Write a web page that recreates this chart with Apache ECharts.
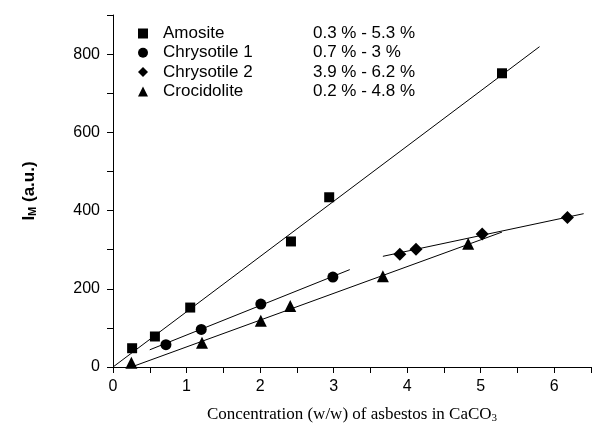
<!DOCTYPE html>
<html>
<head>
<meta charset="utf-8">
<script src="https://cdn.jsdelivr.net/npm/echarts@6/dist/echarts.min.js"></script>
<style>
html, body { margin: 0; padding: 0; background: #fff; }
#chart { width: 594px; height: 435px; }
</style>
</head>
<body>
<div id="chart"></div>
<script type="text/javascript">
// measured points (x = % w/w, y = I_M)
var amosite = [[0.26, 48], [0.57, 78], [1.05, 152], [2.42, 321], [2.94, 434], [5.29, 751]];
var chrysotile1 = [[0.72, 57], [1.2, 96], [2.01, 161], [2.99, 230]];
var chrysotile2 = [[3.9, 288], [4.12, 301], [5.02, 340], [6.18, 382]];
var crocidolite = [[0.25, 11], [1.21, 62], [2.01, 118], [2.41, 156], [3.67, 232], [4.83, 315]];

// fitted lines (end points)
var fitAmosite = [[0, 0], [5.8, 819]];
var fitChrys1 = [[0.5, 44], [3.22, 249]];
var fitChrys2 = [[3.67, 283], [6.4, 392]];
var fitCroc = [[0.25, 0], [5.29, 345]];

var names = ['Amosite', 'Chrysotile 1', 'Chrysotile 2', 'Crocidolite'];
var ranges = ['0.3 % - 5.3 %', '0.7 % - 3 %', '3.9 % - 6.2 %', '0.2 % - 4.8 %'];
var symbols = ['rect', 'circle', 'diamond', 'triangle'];
var sizes = [10, 11, 13, 12];

var font = 'Liberation Sans, Arial, sans-serif';
var myChart = echarts.init(document.getElementById('chart'));

var series = [];
[amosite, chrysotile1, chrysotile2, crocidolite].forEach(function (d, i) {
    series.push({
        name: names[i],
        type: 'scatter',
        symbol: symbols[i],
        symbolSize: sizes[i],
        itemStyle: { color: '#000', opacity: 1 },
        data: d,
        z: 3
    });
});
[fitAmosite, fitChrys1, fitChrys2, fitCroc].forEach(function (d) {
    series.push({
        type: 'line',
        data: d,
        symbol: 'none',
        silent: true,
        lineStyle: { color: '#000', width: 1 },
        z: 2
    });
});

var option = {
    animation: false,
    textStyle: { fontFamily: font },
    grid: { left: 113, top: 15, width: 482, height: 352 },
    legend: {
        orient: 'vertical',
        left: 133,
        top: 20,
        itemGap: 2.3,
        itemWidth: 10,
        itemHeight: 10,
        data: names.map(function (n, i) { return { name: n, icon: symbols[i] }; }),
        itemStyle: { color: '#000', opacity: 1 },
        formatter: function (n) {
            return '{a|' + n + '}{b|' + ranges[names.indexOf(n)] + '}';
        },
        textStyle: {
            fontFamily: font,
            fontSize: 17,
            color: '#000',
            rich: {
                a: { fontFamily: font, fontSize: 17, color: '#000', width: 150, padding: [0, 0, 0, 10] },
                b: { fontFamily: font, fontSize: 17, color: '#000' }
            }
        }
    },
    xAxis: [{
        type: 'value',
        min: 0, max: 6.5, interval: 0.5,
        name: '{a|Concentration (w/w) of asbestos in CaCO}{s|3}',
        nameLocation: 'middle',
        nameGap: 38,
        nameTextStyle: {
            rich: {
                a: { fontFamily: 'Liberation Serif, Times New Roman, serif', fontSize: 17, color: '#000' },
                s: { fontFamily: 'Liberation Serif, Times New Roman, serif', fontSize: 11, color: '#000', padding: [8, 0, 0, 0] }
            }
        },
        axisLine: { onZero: false, lineStyle: { color: '#000', width: 1 } },
        axisTick: { length: 6, lineStyle: { color: '#000' } },
        axisLabel: {
            color: '#000', fontSize: 16, margin: 12,
            formatter: function (v) { return v % 1 === 0 ? String(v) : ''; }
        },
        splitLine: { show: false }
    }, {
        type: 'value',
        position: 'top',
        min: 0, max: 6.5, interval: 0.5,
        axisLine: { lineStyle: { color: '#000', width: 1 } },
        axisTick: { inside: true, length: 4, lineStyle: { color: '#000' } },
        axisLabel: { show: false },
        splitLine: { show: false }
    }],
    yAxis: {
        type: 'value',
        min: 0, max: 900, interval: 100,
        name: '{b|I}{s|M}{b| (a.u.)}',
        nameLocation: 'middle',
        nameRotate: 90,
        nameGap: 75,
        nameTextStyle: {
            rich: {
                b: { fontFamily: font, fontSize: 17, fontWeight: 'bold', color: '#000' },
                s: { fontFamily: font, fontSize: 11, fontWeight: 'bold', color: '#000', padding: [7, 0, 0, 0] }
            }
        },
        axisLine: { show: true, onZero: false, lineStyle: { color: '#000', width: 1 } },
        axisTick: { length: 6, lineStyle: { color: '#000' } },
        axisLabel: {
            color: '#000', fontSize: 16, margin: 13,
            formatter: function (v) { return v % 200 === 0 ? String(v) : ''; }
        },
        splitLine: { show: false }
    },
    series: series
};
myChart.setOption(option);
</script>
</body>
</html>
